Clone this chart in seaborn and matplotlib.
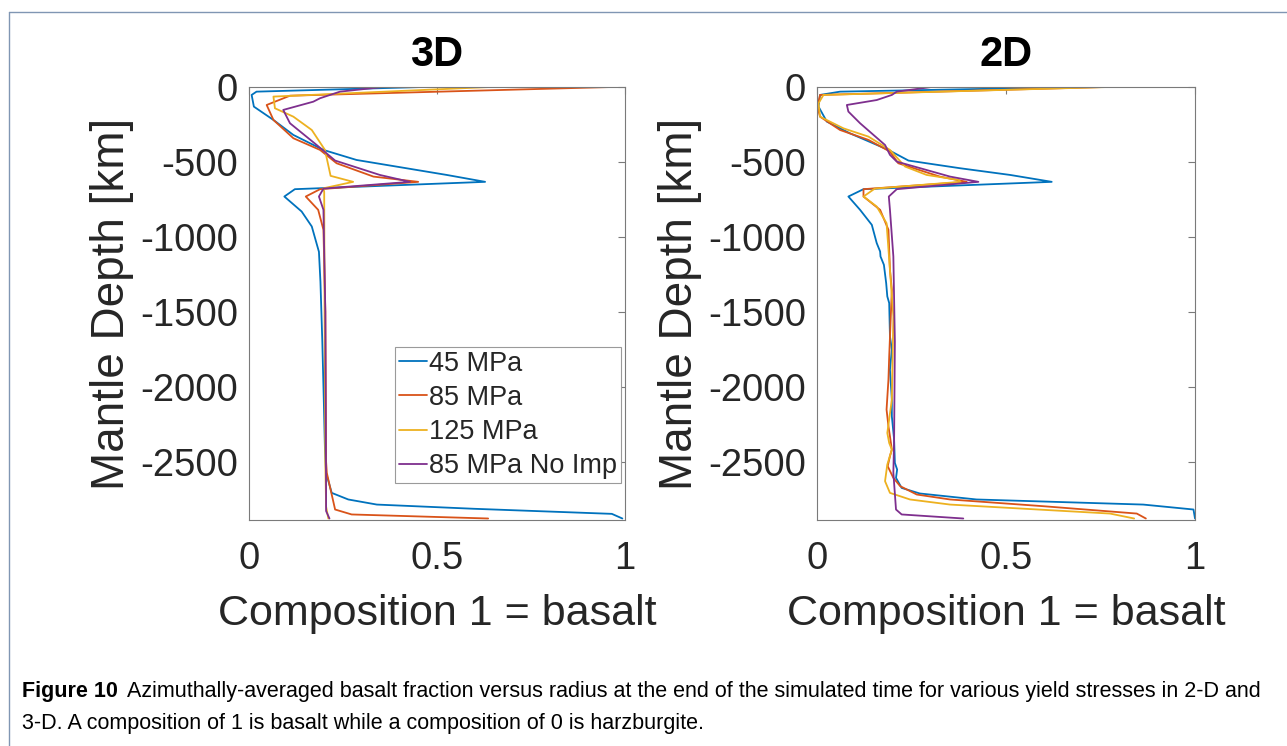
import matplotlib
matplotlib.use("Agg")
import matplotlib.pyplot as plt
from matplotlib import font_manager
from matplotlib.lines import Line2D
import numpy as np
import pandas as pd
import seaborn as sns

# ---------------------------------------------------------------- data
series_names = ["45 MPa", "85 MPa", "125 MPa", "85 MPa No Imp"]
series_colors = ["#0072BD", "#D95319", "#EDB120", "#7E2F8E"]

# 3-D models: basalt fraction vs. depth below surface (km)
comp_3d_45 = [0.462, 0.020, 0.007, 0.013, 0.065, 0.118, 0.198, 0.286, 0.526, 0.628,
              0.122, 0.094, 0.140, 0.167, 0.186, 0.190, 0.195, 0.199, 0.202, 0.205,
              0.220, 0.264, 0.340, 0.597, 0.965, 0.993]
depth_3d_45 = [0, 31, 53, 131, 220, 320, 420, 487, 587, 633,
               682, 731, 831, 931, 1100, 1300, 1700, 2100, 2420, 2576,
               2709, 2753, 2787, 2815, 2849, 2880]

comp_3d_85 = [0.965, 0.109, 0.047, 0.065, 0.118, 0.189, 0.233, 0.331, 0.450, 0.189,
              0.151, 0.184, 0.198, 0.203, 0.205, 0.207, 0.229, 0.273, 0.636]
depth_3d_85 = [0, 58, 120, 220, 342, 420, 509, 598, 633, 682,
               731, 820, 953, 1500, 2500, 2576, 2820, 2853, 2880]

comp_3d_125 = [0.641, 0.065, 0.069, 0.118, 0.167, 0.202, 0.217, 0.277, 0.198, 0.200,
               0.201, 0.203, 0.205, 0.211]
depth_3d_125 = [0, 64, 142, 198, 287, 420, 593, 633, 676, 700,
                1500, 2500, 2800, 2880]

comp_3d_noimp = [0.357, 0.242, 0.189, 0.171, 0.091, 0.109, 0.180, 0.229, 0.348, 0.428,
                 0.198, 0.186, 0.198, 0.203, 0.205, 0.205, 0.214]
depth_3d_noimp = [0, 31, 75, 98, 153, 242, 387, 491, 587, 633,
                  678, 731, 820, 1500, 2700, 2830, 2880]

# 2-D models
comp_2d_45 = [0.705, 0.061, 0.008, 0.004, 0.026, 0.087, 0.189, 0.242, 0.378, 0.511,
              0.621, 0.123, 0.083, 0.114, 0.145, 0.158, 0.167, 0.168, 0.177,
              0.183, 0.186, 0.191, 0.193, 0.198, 0.193, 0.198, 0.198, 0.204, 0.206,
              0.212, 0.209, 0.224, 0.272, 0.422, 0.863, 0.996, 1.000]
depth_2d_45 = [0, 31, 53, 131, 231, 309, 420, 491, 542, 587,
               633, 682, 731, 820, 920, 1042, 1098, 1131, 1187,
               1309, 1398, 1442, 1664, 1753, 1887, 2087, 2198, 2353, 2509,
               2553, 2609, 2676, 2713, 2753, 2787, 2820, 2880]

comp_2d_85 = [0.760, 0.008, 0.001, 0.008, 0.061, 0.136, 0.193, 0.215, 0.325, 0.396,
              0.123, 0.123, 0.167, 0.189, 0.193, 0.198, 0.191, 0.189, 0.184, 0.189,
              0.193, 0.198, 0.193, 0.187, 0.202, 0.220, 0.264, 0.352, 0.599, 0.846,
              0.870]
depth_2d_85 = [0, 53, 131, 198, 287, 353, 431, 509, 598, 633,
               682, 731, 820, 953, 1220, 1353, 1798, 1953, 2153, 2264,
               2331, 2420, 2464, 2531, 2609, 2664, 2720, 2753, 2798, 2847,
               2880]

comp_2d_125 = [0.771, 0.017, 0.004, 0.008, 0.070, 0.136, 0.193, 0.233, 0.290, 0.374,
               0.380, 0.153, 0.123, 0.158, 0.184, 0.193, 0.202, 0.198, 0.186, 0.191,
               0.198, 0.186, 0.180, 0.193, 0.246, 0.352, 0.775, 0.839]
depth_2d_125 = [0, 53, 109, 198, 276, 331, 420, 531, 587, 620,
                633, 678, 731, 798, 909, 1220, 1531, 2087, 2309, 2376,
                2420, 2520, 2631, 2709, 2753, 2787, 2847, 2880]

comp_2d_noimp = [0.303, 0.211, 0.198, 0.158, 0.079, 0.083, 0.114, 0.180, 0.193, 0.211,
                 0.352, 0.427, 0.211, 0.190, 0.193, 0.202, 0.206, 0.204, 0.202, 0.209,
                 0.224, 0.387]
depth_2d_noimp = [0, 31, 53, 87, 120, 164, 242, 387, 453, 498,
                  598, 633, 682, 731, 820, 1131, 1700, 2350, 2574, 2820,
                  2853, 2880]

panel_titles = ["3D", "2D"]
x_ticks = [0, 0.5, 1]
x_tick_labels = ["0", "0.5", "1"]
y_ticks = [0, -500, -1000, -1500, -2000, -2500]
y_tick_labels = ["0", "-500", "-1000", "-1500", "-2000", "-2500"]

# ---------------------------------------------------------------- table
profiles = {
    "3D": [(comp_3d_45, depth_3d_45), (comp_3d_85, depth_3d_85),
           (comp_3d_125, depth_3d_125), (comp_3d_noimp, depth_3d_noimp)],
    "2D": [(comp_2d_45, depth_2d_45), (comp_2d_85, depth_2d_85),
           (comp_2d_125, depth_2d_125), (comp_2d_noimp, depth_2d_noimp)],
}
rows = []
for panel, curves in profiles.items():
    for name, (comp, depth) in zip(series_names, curves):
        for c, d in zip(comp, depth):
            rows.append({"panel": panel, "series": name, "comp": c, "depth": -d})
df = pd.DataFrame(rows)

# ---------------------------------------------------------------- style
sns.set_style("white")
plt.rcParams["font.family"] = ["Liberation Sans", "DejaVu Sans"]
plt.rcParams["axes.unicode_minus"] = False

W, H = 1287, 746
fig = plt.figure(figsize=(W / 100, H / 100), dpi=100)
fig.patch.set_facecolor("white")

# thin frame around the figure block
fig.add_artist(Line2D([9 / W, 1.0], [1 - 12 / H, 1 - 12 / H], transform=fig.transFigure,
                      color="#8096b3", lw=1.0))
fig.add_artist(Line2D([9 / W, 9 / W], [1 - 12 / H, 0.0], transform=fig.transFigure,
                      color="#8096b3", lw=1.0))

axes_boxes = {"3D": [249, 376], "2D": [817, 378]}
ax_top, ax_bottom = 87, 520

spine_col = "#7a7a7a"
text_col = "#262626"

for panel in panel_titles:
    left, width = axes_boxes[panel]
    ax = fig.add_axes([left / W, 1 - ax_bottom / H, width / W, (ax_bottom - ax_top) / H])
    sub = df[df["panel"] == panel]
    sns.lineplot(data=sub, x="comp", y="depth", hue="series", hue_order=series_names,
                 palette=series_colors, sort=False, estimator=None, linewidth=1.3,
                 ax=ax, legend=(panel == "3D"))
    ax.set_xlim(0, 1)
    ax.set_ylim(-2890, 0)
    ax.set_xticks(x_ticks)
    ax.set_xticklabels(x_tick_labels)
    ax.set_yticks(y_ticks)
    ax.set_yticklabels(y_tick_labels)
    ax.tick_params(axis="both", direction="in", top=True, right=True, length=5,
                   width=0.8, color=spine_col, labelcolor=text_col, labelsize=27.5)
    ax.tick_params(axis="x", pad=15)
    ax.tick_params(axis="y", pad=8)
    for sp in ax.spines.values():
        sp.set_visible(True)
        sp.set_color(spine_col)
        sp.set_linewidth(0.8)
    ax.set_xlabel("Composition 1 = basalt", fontsize=31, color=text_col, labelpad=12)
    ax.set_ylabel("Mantle Depth [km]", fontsize=33, color=text_col, labelpad=4)
    ax.set_title(panel, fontsize=30, fontweight="bold", color="black", pad=15)

    if panel == "3D":
        handles, labels = ax.get_legend_handles_labels()
        ax.legend(handles, labels, loc="lower right", bbox_to_anchor=(0.989, 0.085),
                  fontsize=19.5, frameon=True, fancybox=False, framealpha=1,
                  edgecolor="#9a9a9a", handlelength=1.05, handletextpad=0.05,
                  labelspacing=0.3, borderpad=0.15, borderaxespad=0.0)
        ax.get_legend().get_frame().set_linewidth(0.8)

# ---------------------------------------------------------------- caption
cap_bold = "Figure 10"
cap_line1 = "Azimuthally-averaged basalt fraction versus radius at the end of the simulated time for various yield stresses in 2-D and"
cap_line2 = "3-D. A composition of 1 is basalt while a composition of 0 is harzburgite."

names = {f.name for f in font_manager.fontManager.ttflist}
cap_family = "Liberation Sans Narrow" if "Liberation Sans Narrow" in names else "Liberation Sans"

x0, x1 = 22, 1262
y1, y2 = 697, 729
size = 13.0
renderer = fig.canvas.get_renderer()
tb = fig.text(x0 / W, 1 - y1 / H, cap_bold, fontsize=size, fontweight="bold",
              family=cap_family, va="baseline", ha="left", color="black")
t1 = fig.text(0, 1 - y1 / H, cap_line1, fontsize=size, family=cap_family,
              va="baseline", ha="left", color="black")
gap = 9
wb = tb.get_window_extent(renderer).width
w1 = t1.get_window_extent(renderer).width
scale = (x1 - x0 - gap) / (wb + w1)
size *= scale
tb.set_fontsize(size)
t1.set_fontsize(size)
wb = tb.get_window_extent(renderer).width
t1.set_x((x0 + wb + gap) / W)
fig.text(x0 / W, 1 - y2 / H, cap_line2, fontsize=size, family=cap_family,
         va="baseline", ha="left", color="black")

fig.savefig("out.png", dpi=100, facecolor="white")
